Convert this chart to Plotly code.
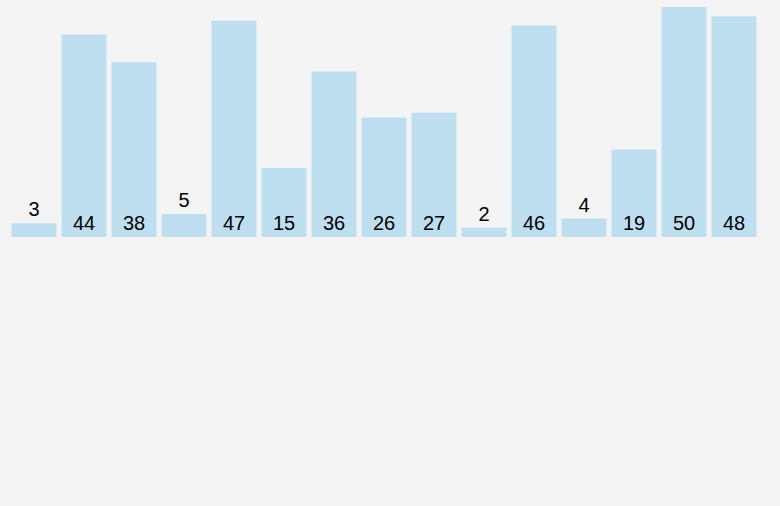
import plotly.graph_objects as go

categories = [str(i) for i in range(1, 16)]
values = [3, 44, 38, 5, 47, 15, 36, 26, 27, 2, 46, 4, 19, 50, 48]
small_threshold = 10

positions = ["outside" if v < small_threshold else "inside" for v in values]
label_font = dict(family="Liberation Sans", size=20, color="#000000")

fig = go.Figure(go.Bar(
    x=categories,
    y=values,
    text=[str(v) for v in values],
    textposition=positions,
    insidetextanchor="start",
    constraintext="none",
    cliponaxis=False,
    textangle=0,
    marker=dict(color="#bddff0", line=dict(width=0)),
    textfont=label_font,
    insidetextfont=label_font,
    outsidetextfont=label_font,
    hoverinfo="none",
))

fig.update_layout(
    width=780, height=506,
    paper_bgcolor="#f4f4f4",
    plot_bgcolor="#f4f4f4",
    margin=dict(l=9, r=21, t=7, b=269),
    bargap=0.1,
    showlegend=False,
    xaxis=dict(visible=False, type="category"),
    yaxis=dict(visible=False, range=[0, 50]),
)

fig.write_html(
    "out.html",
    config={"displayModeBar": False},
    post_script="document.body.style.margin='0';document.body.style.background='#f4f4f4';",
)
